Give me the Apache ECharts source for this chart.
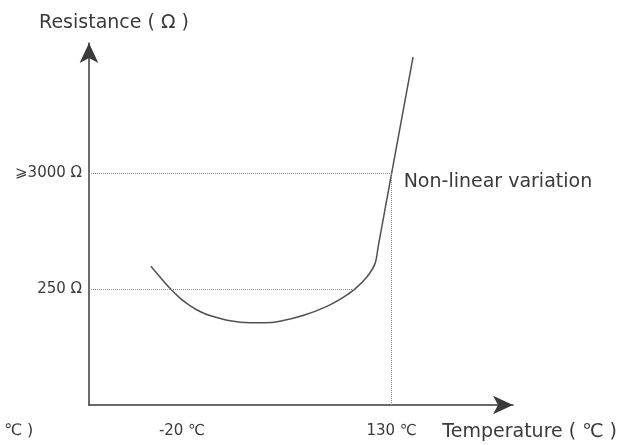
<!DOCTYPE html>
<html>
<head>
<meta charset="utf-8">
<script src="https://cdn.jsdelivr.net/npm/echarts@6/dist/echarts.min.js"></script>
<style>
html,body{margin:0;padding:0;background:#fff;}
#chart{width:629px;height:445px;}
</style>
</head>
<body>
<div id="chart"></div>
<script>
// Temperature (℃) and resistance (Ω)
const temperatures = [-42.2, -35.7, -28.6, -21.4, -14.3, -7.1, 0, 14.4, 28.7, 39.4, 50.1, 66.6, 83.7, 94.5, 103.8, 112.4, 118.1, 120.4, 130, 145.3];
const resistances  = [406, 322, 253, 205, 175, 154, 141, 126, 121, 121, 125, 141, 172, 205, 250, 325, 430, 623, 3000, 36200];
const tickTemps = [-20, 130];
const tickTempLabels = ['-20 ℃', '130 ℃'];
const refLevels = [250, 3000];
const refLevelLabels = ['250 Ω', '⩾3000 Ω'];
const refLevelEnds = [103.8, 130];   // where each dotted reference line meets the curve
const switchTemp = 130;
const noteText = 'Non-linear variation';
const xName = 'Temperature ( ℃ )';
const yName = 'Resistance ( Ω )';
const cutText = '℃ )';
const xMin = -86.5, xMax = 216.8, yMin = 20.7, yMax = 48900;

const font = 'DejaVu Sans';
const textColor = '#3a3a3a';
const dotStyle = {type: 'dotted', color: '#8a8a8a', width: 1};

const chart = echarts.init(document.getElementById('chart'), null, {renderer: 'canvas'});

const refLines = refLevels.map((v, i) => [
  {coord: [xMin, v], label: {formatter: refLevelLabels[i]}},
  {coord: [refLevelEnds[i], v]}
]);
refLines.push([
  {coord: [switchTemp, yMin], label: {show: false}},
  {coord: [switchTemp, refLevels[1]]}
]);

chart.setOption({
  animation: false,
  backgroundColor: '#fff',
  grid: {left: 89, right: 116, top: 43, bottom: 40},
  xAxis: {
    type: 'value', min: xMin, max: xMax,
    name: xName, nameLocation: 'end', nameGap: 104,
    nameTextStyle: {fontFamily: font, fontSize: 19, color: textColor, align: 'right', verticalAlign: 'top', padding: [18, 0, 0, 0]},
    axisLine: {show: true, onZero: false, symbol: ['none', 'arrow'], symbolSize: [14, 20], lineStyle: {color: '#3a3a3a', width: 1.5}},
    axisTick: {show: false},
    splitLine: {show: false},
    axisLabel: {customValues: tickTemps, formatter: v => tickTempLabels[tickTemps.indexOf(v)], fontFamily: font, fontSize: 15, color: textColor, margin: 19}
  },
  yAxis: {
    type: 'log', min: yMin, max: yMax, logBase: 10,
    name: yName, nameLocation: 'end', nameGap: 10,
    nameTextStyle: {fontFamily: font, fontSize: 19, color: textColor, padding: [0, 0, 0, 50]},
    axisLine: {show: true, onZero: false, symbol: ['none', 'arrow'], symbolSize: [14, 20], lineStyle: {color: '#3a3a3a', width: 1.5}},
    axisTick: {show: false},
    splitLine: {show: false},
    axisLabel: {show: false}
  },
  graphic: [{
    type: 'text', left: 4, top: 423,
    style: {text: cutText, font: '16px "DejaVu Sans"', fill: textColor}
  }],
  series: [{
    type: 'line',
    data: temperatures.map((t, i) => [t, resistances[i]]),
    smooth: 0.3,
    showSymbol: false, symbol: 'none',
    lineStyle: {color: '#505050', width: 1.5},
    markLine: {
      silent: true, symbol: 'none',
      lineStyle: dotStyle,
      label: {position: 'start', fontFamily: font, fontSize: 15, color: textColor, distance: 7},
      data: refLines
    },
    markPoint: {
      silent: true,
      symbol: 'circle', symbolSize: 0,
      itemStyle: {color: 'rgba(0,0,0,0)'},
      data: [{coord: [switchTemp, refLevels[1]],
        label: {show: true, formatter: noteText, position: 'right', distance: 12, offset: [0, 9], fontFamily: font, fontSize: 19, color: textColor}}]
    }
  }]
});
</script>
</body>
</html>
